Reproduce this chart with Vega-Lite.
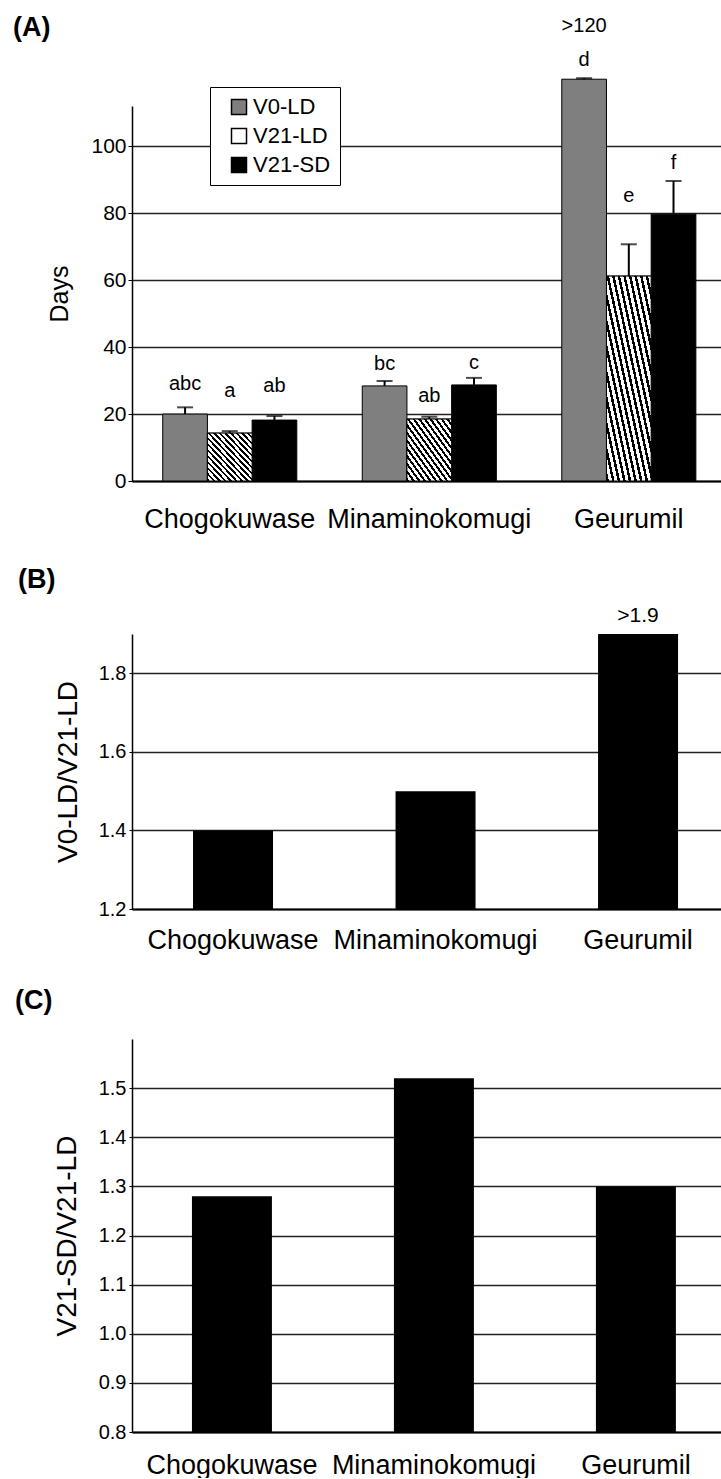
{
  "$schema": "https://vega.github.io/schema/vega-lite/v6.json",
  "background": "white",
  "padding": {"left": 13, "top": 14, "right": 0, "bottom": 0},
  "spacing": 34,
  "columns": 1,
  "align": "none",
  "config": {
    "font": "Liberation Sans",
    "view": {"stroke": null},
    "axis": {"domainColor": "black", "gridColor": "#222222", "gridWidth": 1.5, "gridOpacity": 1, "labelColor": "black", "titleColor": "black", "tickColor": "black", "titleFontWeight": "normal", "labelLimit": 400, "labelOverlap": false},
    "title": {"fontWeight": "bold", "anchor": "start", "color": "black", "frame": "group"},
    "legend": {"labelFontSize": 22, "symbolType": "square", "symbolSize": 225, "strokeColor": "black", "fillColor": "white", "padding": 9, "rowPadding": 7, "labelColor": "black", "labelOffset": 3, "symbolOffset": 9, "cornerRadius": 0}
  },
  "datasets": {
    "days": [
      {"cultivar": "Chogokuwase", "treatment": "V0-LD", "days": 20.0, "upper": 22.0, "letter": "abc", "labelDays": 29.0},
      {"cultivar": "Chogokuwase", "treatment": "V21-LD", "days": 14.3, "upper": 14.9, "letter": "a", "labelDays": 26.9},
      {"cultivar": "Chogokuwase", "treatment": "V21-SD", "days": 18.2, "upper": 19.4, "letter": "ab", "labelDays": 28.4},
      {"cultivar": "Minaminokomugi", "treatment": "V0-LD", "days": 28.4, "upper": 29.9, "letter": "bc", "labelDays": 35.0},
      {"cultivar": "Minaminokomugi", "treatment": "V21-LD", "days": 18.5, "upper": 19.2, "letter": "ab", "labelDays": 25.4},
      {"cultivar": "Minaminokomugi", "treatment": "V21-SD", "days": 28.7, "upper": 30.8, "letter": "c", "labelDays": 35.3},
      {"cultivar": "Geurumil", "treatment": "V0-LD", "days": 120, "upper": 120.3, "letter": "d", "labelDays": 125.7, "note": ">120", "noteDays": 135.8},
      {"cultivar": "Geurumil", "treatment": "V21-LD", "days": 61.2, "upper": 70.7, "letter": "e", "labelDays": 85.0},
      {"cultivar": "Geurumil", "treatment": "V21-SD", "days": 79.7, "upper": 89.6, "letter": "f", "labelDays": 95.0}
    ],
    "ratioB": [
      {"cultivar": "Chogokuwase", "ratio": 1.40},
      {"cultivar": "Minaminokomugi", "ratio": 1.50},
      {"cultivar": "Geurumil", "ratio": 1.90, "note": ">1.9"}
    ],
    "ratioC": [
      {"cultivar": "Chogokuwase", "ratio": 1.28},
      {"cultivar": "Minaminokomugi", "ratio": 1.52},
      {"cultivar": "Geurumil", "ratio": 1.30}
    ]
  },
  "concat": [
    {
      "title": {"text": "(A)", "fontSize": 27, "dx": -119, "offset": -26},
      "width": 589,
      "height": 375,
      "data": {"name": "days"},
      "encoding": {
        "x": {"field": "cultivar", "type": "nominal", "sort": ["Chogokuwase", "Minaminokomugi", "Geurumil"],
          "scale": {"paddingInner": 0.328, "paddingOuter": 0.14, "align": 0.55},
          "axis": {"title": null, "labelAngle": 0, "labelFontSize": 27, "labelPadding": 25, "ticks": false, "tickSize": 0, "domainWidth": 2, "grid": false}},
        "xOffset": {"field": "treatment", "type": "nominal", "scale": {"domain": ["V0-LD", "V21-LD", "V21-SD"], "paddingInner": 0, "paddingOuter": 0}}
      },
      "layer": [
        {
          "mark": {"type": "bar", "stroke": "black", "strokeWidth": 1},
          "encoding": {
            "y": {"field": "days", "type": "quantitative", "title": "Days",
              "scale": {"domain": [0, 112], "nice": false},
              "axis": {"values": [0, 20, 40, 60, 80, 100], "titleFontSize": 25, "labelFontSize": 21, "tickSize": 4, "labelPadding": 2, "titlePadding": 18, "grid": true, "domainWidth": 1.5}},
            "fill": {"field": "treatment", "type": "nominal",
              "scale": {"domain": ["V0-LD", "V21-LD", "V21-SD"], "range": ["#7f7f7f", "#ffffff", "#000000"]},
              "legend": {"title": null, "orient": "none", "legendX": 78, "legendY": -19,
                "encode": {"symbols": {
                  "stroke": {"value": "black"},
                  "strokeWidth": {"value": 1}
                }}}}
          }
        },
        {
          "transform": [{"filter": "datum.treatment === 'V21-LD'"}],
          "mark": {"type": "bar", "stroke": "black", "strokeWidth": 1,
            "fill": {"gradient": "linear", "x1": 0, "y1": 1, "x2": 1, "y2": 0, "stops": [
              {"offset": 0, "color": "black"}, {"offset": 0.028, "color": "black"}, {"offset": 0.028, "color": "white"}, {"offset": 0.0625, "color": "white"},
              {"offset": 0.0625, "color": "black"}, {"offset": 0.0905, "color": "black"}, {"offset": 0.0905, "color": "white"}, {"offset": 0.125, "color": "white"},
              {"offset": 0.125, "color": "black"}, {"offset": 0.153, "color": "black"}, {"offset": 0.153, "color": "white"}, {"offset": 0.1875, "color": "white"},
              {"offset": 0.1875, "color": "black"}, {"offset": 0.2155, "color": "black"}, {"offset": 0.2155, "color": "white"}, {"offset": 0.25, "color": "white"},
              {"offset": 0.25, "color": "black"}, {"offset": 0.278, "color": "black"}, {"offset": 0.278, "color": "white"}, {"offset": 0.3125, "color": "white"},
              {"offset": 0.3125, "color": "black"}, {"offset": 0.3405, "color": "black"}, {"offset": 0.3405, "color": "white"}, {"offset": 0.375, "color": "white"},
              {"offset": 0.375, "color": "black"}, {"offset": 0.403, "color": "black"}, {"offset": 0.403, "color": "white"}, {"offset": 0.4375, "color": "white"},
              {"offset": 0.4375, "color": "black"}, {"offset": 0.4655, "color": "black"}, {"offset": 0.4655, "color": "white"}, {"offset": 0.5, "color": "white"},
              {"offset": 0.5, "color": "black"}, {"offset": 0.528, "color": "black"}, {"offset": 0.528, "color": "white"}, {"offset": 0.5625, "color": "white"},
              {"offset": 0.5625, "color": "black"}, {"offset": 0.5905, "color": "black"}, {"offset": 0.5905, "color": "white"}, {"offset": 0.625, "color": "white"},
              {"offset": 0.625, "color": "black"}, {"offset": 0.653, "color": "black"}, {"offset": 0.653, "color": "white"}, {"offset": 0.6875, "color": "white"},
              {"offset": 0.6875, "color": "black"}, {"offset": 0.7155, "color": "black"}, {"offset": 0.7155, "color": "white"}, {"offset": 0.75, "color": "white"},
              {"offset": 0.75, "color": "black"}, {"offset": 0.778, "color": "black"}, {"offset": 0.778, "color": "white"}, {"offset": 0.8125, "color": "white"},
              {"offset": 0.8125, "color": "black"}, {"offset": 0.8405, "color": "black"}, {"offset": 0.8405, "color": "white"}, {"offset": 0.875, "color": "white"},
              {"offset": 0.875, "color": "black"}, {"offset": 0.903, "color": "black"}, {"offset": 0.903, "color": "white"}, {"offset": 0.9375, "color": "white"},
              {"offset": 0.9375, "color": "black"}, {"offset": 0.9655, "color": "black"}, {"offset": 0.9655, "color": "white"}, {"offset": 1, "color": "white"}
            ]}},
          "encoding": {"y": {"field": "days", "type": "quantitative", "title": "Days"}}
        },
        {
          "mark": {"type": "rule", "color": "black", "strokeWidth": 2},
          "encoding": {"y": {"field": "days", "type": "quantitative", "title": "Days"}, "y2": {"field": "upper"}}
        },
        {
          "mark": {"type": "tick", "color": "black", "thickness": 2, "size": 16, "orient": "horizontal"},
          "encoding": {"y": {"field": "upper", "type": "quantitative", "title": "Days"}}
        },
        {
          "mark": {"type": "text", "fontSize": 20, "baseline": "middle", "color": "black"},
          "encoding": {"y": {"field": "labelDays", "type": "quantitative", "title": "Days"}, "text": {"field": "letter"}}
        },
        {
          "transform": [{"filter": "datum.note != null"}],
          "mark": {"type": "text", "fontSize": 20, "baseline": "middle", "color": "black"},
          "encoding": {"y": {"field": "noteDays", "type": "quantitative", "title": "Days"}, "text": {"field": "note"}}
        }
      ]
    },
    {
      "title": {"text": "(B)", "fontSize": 27, "dx": -114, "offset": 11},
      "width": 594,
      "height": 275,
      "data": {"name": "ratioB"},
      "encoding": {
        "x": {"field": "cultivar", "type": "nominal", "sort": ["Chogokuwase", "Minaminokomugi", "Geurumil"],
          "scale": {"paddingInner": 0.605, "paddingOuter": 0.269, "align": 0.56},
          "axis": {"title": null, "labelAngle": 0, "labelFontSize": 27, "labelPadding": 18, "ticks": false, "tickSize": 0, "domainWidth": 2, "grid": false}}
      },
      "layer": [
        {
          "mark": {"type": "bar", "color": "black"},
          "encoding": {
            "y": {"field": "ratio", "type": "quantitative", "title": "V0-LD/V21-LD",
              "scale": {"domain": [1.2, 1.9], "nice": false, "zero": false},
              "axis": {"values": [1.2, 1.4, 1.6, 1.8], "format": ".1f", "titleFontSize": 28, "labelFontSize": 20, "tickSize": 3, "labelPadding": 3, "titlePadding": 16, "grid": true, "domainWidth": 1.5}},
            "y2": {"datum": 1.2}
          }
        },
        {
          "transform": [{"filter": "datum.note != null"}],
          "mark": {"type": "text", "fontSize": 21, "dy": -18, "color": "black"},
          "encoding": {"y": {"field": "ratio", "type": "quantitative", "title": "V0-LD/V21-LD"}, "text": {"field": "note"}}
        }
      ]
    },
    {
      "title": {"text": "(C)", "fontSize": 27, "dx": -117, "offset": 24},
      "width": 591,
      "height": 393,
      "data": {"name": "ratioC"},
      "encoding": {
        "x": {"field": "cultivar", "type": "nominal", "sort": ["Chogokuwase", "Minaminokomugi", "Geurumil"],
          "scale": {"paddingInner": 0.604, "paddingOuter": 0.265, "align": 0.56},
          "axis": {"title": null, "labelAngle": 0, "labelFontSize": 27, "labelPadding": 20, "ticks": false, "tickSize": 0, "domainWidth": 2, "grid": false}}
      },
      "layer": [
        {
          "mark": {"type": "bar", "color": "black"},
          "encoding": {
            "y": {"field": "ratio", "type": "quantitative", "title": "V21-SD/V21-LD",
              "scale": {"domain": [0.8, 1.6], "nice": false, "zero": false},
              "axis": {"values": [0.8, 0.9, 1.0, 1.1, 1.2, 1.3, 1.4, 1.5], "format": ".1f", "titleFontSize": 28, "labelFontSize": 20, "tickSize": 3, "labelPadding": 3, "titlePadding": 17, "grid": true, "domainWidth": 1.5}},
            "y2": {"datum": 0.8}
          }
        }
      ]
    }
  ]
}
